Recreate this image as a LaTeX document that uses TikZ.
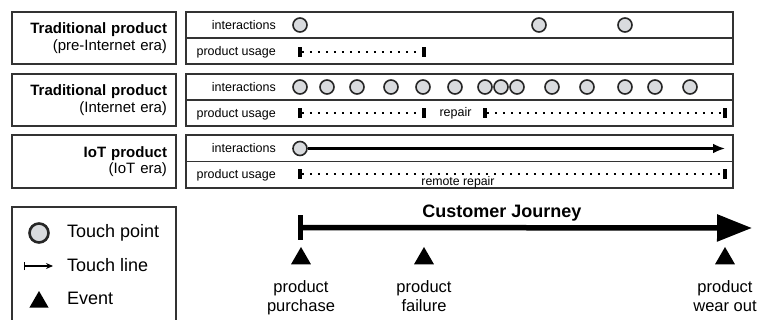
\documentclass[tikz,border=0pt]{standalone}
\usepackage{fontspec}
\setmainfont{Liberation Sans}
\usetikzlibrary{arrows.meta,shapes.geometric,positioning}

\definecolor{tpgray}{HTML}{D9DBDE}
\definecolor{boxgray}{HTML}{333333}

\tikzset{
  catbox/.style={draw=boxgray, line width=1.3pt, minimum width=164pt, minimum height=52pt,
    text width=146pt, inner xsep=9pt, align=right, font=\fontsize{15}{16.5}\selectfont},
  rowbox/.style={draw=boxgray, line width=1.3pt, minimum width=547pt, minimum height=52pt},
  rowlabel/.style={anchor=base east, inner sep=0pt, font=\fontsize{12.5}{14}\selectfont},
  tp/.style={circle, draw=black!85, fill=tpgray, line width=1.6pt, minimum size=14pt, inner sep=0pt},
  usetick/.style={fill, minimum width=3.5pt, minimum height=10pt, inner sep=0pt},
  usage/.style={line width=2pt, dash pattern=on 2pt off 6pt},
  touchline/.style={line width=2.4pt, -{Latex[length=12pt,width=10pt]}},
  event/.style={regular polygon, regular polygon sides=3, fill, minimum size=23pt, inner sep=0pt},
  evlabel/.style={align=center, inner sep=0pt, font=\fontsize{16.5}{18.5}\selectfont},
  legtext/.style={anchor=base west, inner sep=0pt, font=\fontsize{18}{20}\selectfont}
}

\begin{document}
\begin{tikzpicture}
  [x=1pt, y=-1pt]
  \useasboundingbox (0,0) rectangle (765,320);

  % categories
  \node[catbox] (c1) at (94,38) {\textbf{Traditional product}\\(pre-Internet era)};
  \node[catbox] (c2) at (94,100) {\textbf{Traditional product}\\(Internet era)};
  \node[catbox, minimum height=53pt] (c3) at (94,161.5) {\textbf{IoT product}\\(IoT era)};

  % timelines
  \node[rowbox] (r1) at (459.5,38) {};
  \node[rowbox] (r2) at (459.5,100) {};
  \node[rowbox, minimum height=53pt] (r3) at (459.5,161.5) {};
  \foreach \r in {r1,r2,r3}
  \draw[boxgray, line width=1.3pt] (\r.west) -- (\r.east);

  \node[rowlabel] (i1) at (276,29.5) {interactions};
  \node[rowlabel] (p1) at (276,55.5) {product usage};
  \node[rowlabel] (i2) at (276,91.5) {interactions};
  \node[rowlabel] (p2) at (276,117.5) {product usage};
  \node[rowlabel] (i3) at (276,153) {interactions};
  \node[rowlabel] (p3) at (276,179) {product usage};

  % touch points
  \foreach \x [count=\i] in {300,539,625}
  \node[tp] (t1-\i) at (\x,25) {};
  \foreach \x [count=\i] in {300,327,357,391,423,455,485,501,517,552,587,625,655,690}
  \node[tp] (t2-\i) at (\x,87) {};
  \node[tp] (t3) at (300,148.5) {};
  \coordinate (a3) at (725,148.5);
  \draw[touchline] (t3) -- (a3);

  % usage
  \node[usetick] (u1a) at (300,52) {};
  \node[usetick] (u1b) at (424,52) {};
  \node[usetick] (u2a) at (300,113) {};
  \node[usetick] (u2b) at (424,113) {};
  \node[usetick] (u2c) at (485,113) {};
  \node[usetick] (u2d) at (725,113) {};
  \node[usetick] (u3a) at (300,174) {};
  \node[usetick] (u3b) at (725,174) {};
  \foreach \from/\to in {u1a/u1b,u2a/u2b,u2c/u2d,u3a/u3b}
  \draw[usage] (\from.east) -- (\to.west);

  \node[anchor=base, inner sep=0pt, font=\fontsize{12.5}{14}\selectfont] (rep) at (455.5,116.5) {repair};
  \node[anchor=base, inner sep=0pt, font=\fontsize{12.3}{14}\selectfont] (rrep) at (458,186) {remote repair};

  % customer journey
  \node[fill, minimum width=5pt, minimum height=25pt, inner sep=0pt] (cjs) at (300,227.5) {};
  \coordinate (cje) at (752,228);
  \draw[line width=5.5pt, -{Triangle[length=35pt,width=26pt]}] (cjs.center) -- (cje);
  \node[anchor=base, inner sep=0pt, font=\fontsize{18}{20}\selectfont\bfseries] (cj) at (502,218) {Customer Journey};

  \node[event] (e1) at (301,258.5) {};
  \node[event] (e2) at (424,258.5) {};
  \node[event] (e3) at (725,258.5) {};
  \node[evlabel, below=16pt of e1] (l1) {product\\purchase};
  \node[evlabel, below=16pt of e2] (l2) {product\\failure};
  \node[evlabel, below=16pt of e3] (l3) {product\\wear out};

  % legend
  \node[draw=boxgray, line width=1.3pt, minimum width=164pt, minimum height=118pt] (leg) at (94,266) {};
  \node[tp, minimum size=19pt, line width=2.6pt] (lg1) at (39,233) {};
  \coordinate (lg2a) at (24,266);
  \coordinate (lg2b) at (53,266);
  \draw[line width=1.3pt, {Bar[width=8pt]}-{Stealth[length=7pt,width=6pt]}] (lg2a) -- (lg2b);
  \node[event, minimum size=22pt] (lg3) at (39,302) {};
  \node[legtext] (lt1) at (67,238) {Touch point};
  \node[legtext] (lt2) at (67,272) {Touch line};
  \node[legtext] (lt3) at (67,304) {Event};
\end{tikzpicture}
\end{document}
